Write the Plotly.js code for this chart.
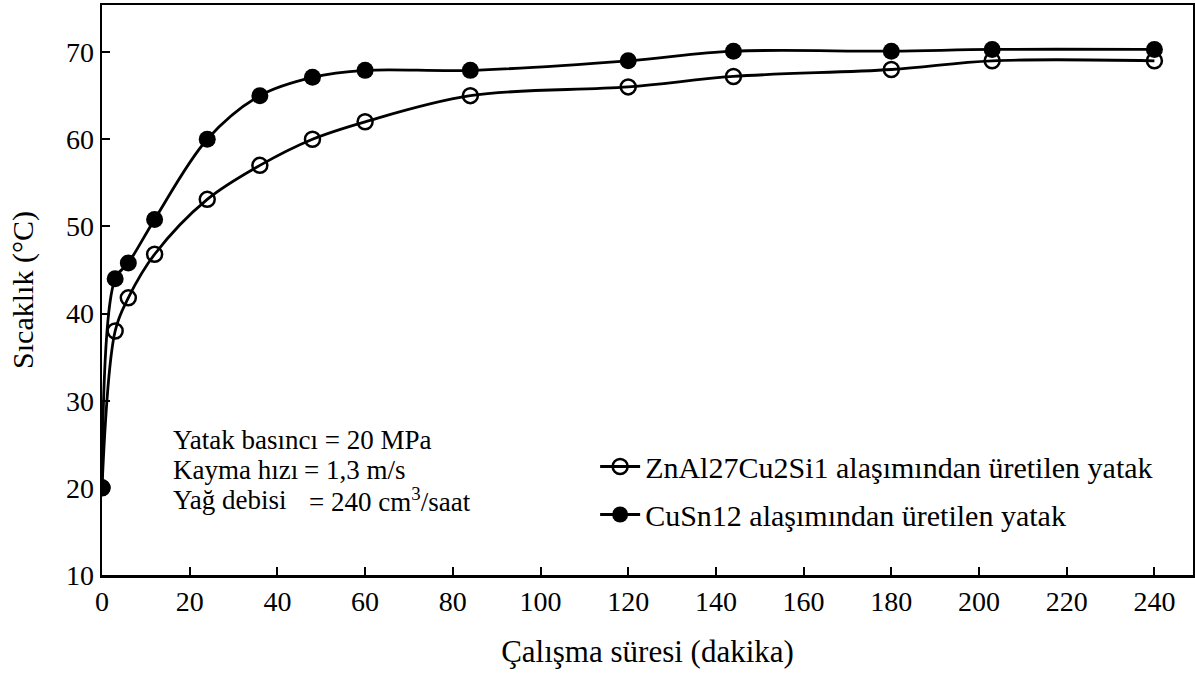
<!DOCTYPE html>
<html>
<head>
<meta charset="utf-8">
<script src="https://cdn.plot.ly/plotly-3.0.1.min.js"></script>
<style>html,body{margin:0;padding:0;background:#fff;}#chart{width:1195px;height:677px;}</style>
</head>
<body>
<div id="chart"></div>
<script>
// Time (minutes)
const timeZn = [0, 3, 6, 12, 24, 36, 48, 60, 84, 120, 144, 180, 203, 240];
const tempZn = [20, 38, 41.8, 46.8, 53.1, 57, 60, 62, 65, 66, 67.2, 68, 69, 69];
const timeCu = [0, 3, 6, 12, 24, 36, 48, 60, 84, 120, 144, 180, 203, 240];
const tempCu = [20, 44, 45.8, 50.8, 60, 65, 67.1, 67.9, 67.9, 69, 70.1, 70.1, 70.3, 70.3];
const seriesNames = ["ZnAl27Cu2Si1 alaşımından üretilen yatak", "CuSn12 alaşımından üretilen yatak"];
const xTicks = [0, 20, 40, 60, 80, 100, 120, 140, 160, 180, 200, 220, 240];
const yTicks = [10, 20, 30, 40, 50, 60, 70];
const xTitle = "Çalışma süresi (dakika)";
const yTitle = "Sıcaklık (°C)";
const noteLabels = ["Yatak basıncı = 20 MPa", "Kayma hızı", "Yağ debisi"];
const noteValues = ["", "= 1,3 m/s", "= 240 cm<sup>3</sup>/saat"];

const FONT = "'Liberation Serif', 'Times New Roman', serif";

const traces = [
  {
    x: timeZn, y: tempZn, name: seriesNames[0], type: "scatter", mode: "lines+markers",
    line: {color: "#000", width: 2.8, shape: "spline", smoothing: 1},
    marker: {symbol: "circle-open", size: 15, color: "#000", line: {width: 2.5, color: "#000"}},
    legendgroup: "a", cliponaxis: true
  },
  {
    x: timeCu, y: tempCu, name: seriesNames[1], type: "scatter", mode: "lines+markers",
    line: {color: "#000", width: 2.8, shape: "spline", smoothing: 1},
    marker: {symbol: "circle", size: 17, color: "#000"},
    legendgroup: "b", cliponaxis: true
  }
];

const annotations = [];
const noteX = [0.1835, 0.188];
noteLabels.forEach((lab, i) => {
  const yy = 0.237 - i * 0.053;
  annotations.push({
    xref: "paper", yref: "paper", x: 0.063, y: yy,
    xanchor: "left", yanchor: "middle", showarrow: false,
    text: lab, font: {family: FONT, size: 27, color: "#000"}
  });
  if (noteValues[i]) annotations.push({
    xref: "paper", yref: "paper", x: noteX[i - 1], y: yy,
    xanchor: "left", yanchor: "middle", showarrow: false,
    text: noteValues[i], font: {family: FONT, size: 27, color: "#000"}
  });
});

const layout = {
  width: 1195, height: 677,
  margin: {l: 102, r: 2, t: 5, b: 102},
  paper_bgcolor: "#fff", plot_bgcolor: "#fff",
  font: {family: FONT, color: "#000", size: 27},
  showlegend: true,
  legend: {
    x: 0.452, y: 0.236, xanchor: "left", yanchor: "top",
    font: {family: FONT, size: 30, color: "#000"},
    bgcolor: "rgba(0,0,0,0)", tracegroupgap: 6, traceorder: "grouped",
    itemwidth: 40
  },
  xaxis: {
    range: [0, 248.8], tickvals: xTicks, ticktext: xTicks.map(String),
    ticks: "inside", ticklen: 8, tickwidth: 2, tickcolor: "#000",
    showline: true, linecolor: "#000", linewidth: 2.5, mirror: true,
    showgrid: false, zeroline: false,
    tickfont: {family: FONT, size: 28, color: "#000"},
    title: {text: xTitle, font: {family: FONT, size: 31, color: "#000"}, standoff: 24}
  },
  yaxis: {
    range: [10, 75.4], tickvals: yTicks, ticktext: yTicks.map(String),
    ticks: "inside", ticklen: 8, tickwidth: 2, tickcolor: "#000",
    showline: true, linecolor: "#000", linewidth: 2.5, mirror: true,
    showgrid: false, zeroline: false,
    tickfont: {family: FONT, size: 28, color: "#000"},
    title: {text: yTitle, font: {family: FONT, size: 30, color: "#000"}, standoff: 24}
  },
  annotations: annotations
};

Plotly.newPlot("chart", traces, layout, {displayModeBar: false, staticPlot: true});
</script>
</body>
</html>
